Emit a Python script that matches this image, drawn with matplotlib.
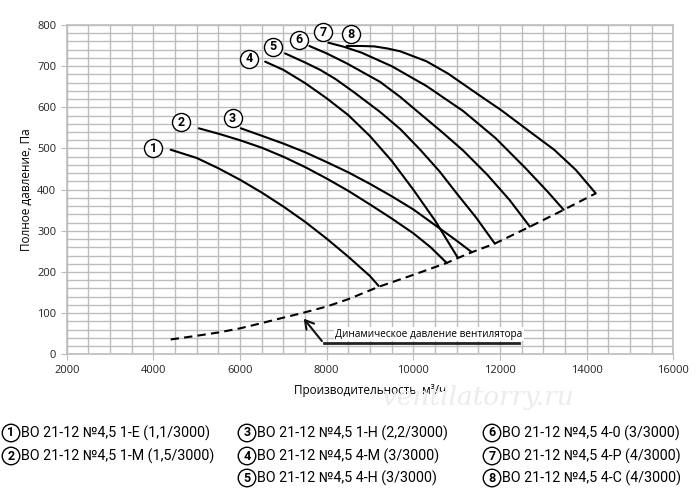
import matplotlib
matplotlib.use('Agg')
import matplotlib.pyplot as plt
from matplotlib.ticker import MultipleLocator

# fan curves (flow m3/h, total pressure Pa)
c1_x = [4400, 5000, 5500, 6000, 6500, 7000, 7500, 8000, 8500, 9000, 9200]
c1_y = [497, 477, 452, 424, 393, 359, 322, 281, 237, 190, 166]
c2_x = [5050, 5500, 6000, 6500, 7000, 7500, 8000, 8500, 9000, 9500, 10000, 10400, 10770]
c2_y = [549, 536, 520, 502, 480, 455, 427, 397, 364, 330, 294, 260, 222]
c3_x = [6020, 6500, 7000, 7500, 8000, 8500, 9000, 9500, 10000, 10500, 11000, 11350]
c3_y = [549, 531, 512, 491, 467, 442, 414, 384, 352, 314, 276, 248]
c4_x = [6580, 7000, 7500, 8000, 8500, 9000, 9500, 10000, 10500, 11030]
c4_y = [711, 691, 659, 622, 581, 530, 470, 400, 325, 234]
c5_x = [7040, 7500, 7850, 8200, 8600, 9230, 9700, 10150, 10600, 11000, 11450, 11880]
c5_y = [731, 709, 691, 669, 639, 589, 547, 498, 445, 391, 332, 269]
c6_x = [7600, 8000, 8460, 9230, 9700, 10150, 10650, 11150, 11700, 12220, 12690]
c6_y = [749, 731, 707, 662, 625, 585, 541, 495, 437, 375, 310]
c7_x = [8040, 8400, 8800, 9500, 10300, 11150, 11900, 12600, 13100, 13470]
c7_y = [757, 747, 733, 700, 652, 591, 525, 451, 395, 351]
c8_x = [8460, 8800, 9100, 9400, 9700, 10300, 10800, 11500, 12030, 12700, 13250, 13750, 14210]
c8_y = [749, 749, 748, 743, 736, 712, 682, 631, 593, 540, 497, 448, 391]

# dynamic pressure of the fan
dyn_x = [4400, 5000, 5500, 6000, 6470, 7000, 7390, 8000, 8500, 9200, 10000,
         10770, 11030, 11350, 11880, 12690, 13470, 14210]
dyn_y = [36, 45, 53, 63, 75, 89, 99, 116, 134, 164, 193, 222, 234, 248, 269, 310, 351, 391]

curves = [(c1_x, c1_y), (c2_x, c2_y), (c3_x, c3_y), (c4_x, c4_y),
          (c5_x, c5_y), (c6_x, c6_y), (c7_x, c7_y), (c8_x, c8_y)]
curve_nums = ['1', '2', '3', '4', '5', '6', '7', '8']
label_pos = [(4000, 500), (4640, 564), (5830, 574), (6210, 718),
             (6770, 747), (7350, 764), (7910, 782), (8570, 778)]

legend_names = ['ВО 21-12 №4,5 1-Е (1,1/3000)',
                'ВО 21-12 №4,5 1-М (1,5/3000)',
                'ВО 21-12 №4,5 1-Н (2,2/3000)',
                'ВО 21-12 №4,5 4-М (3/3000)',
                'ВО 21-12 №4,5 4-Н (3/3000)',
                'ВО 21-12 №4,5 4-0 (3/3000)',
                'ВО 21-12 №4,5 4-Р (4/3000)',
                'ВО 21-12 №4,5 4-С (4/3000)']
# legend cell (column x, row y) in figure pixels
legend_cells = [(11, 433), (11, 456), (247, 433), (247, 456),
                (247, 478), (492, 433), (492, 456), (492, 478)]

plt.rcParams['font.family'] = ['Open Sans', 'DejaVu Sans']
narrow = ['Roboto', 'DejaVu Sans']
grid_c = '#bdbdbd'

W, H = 700, 496
fig = plt.figure(figsize=(7, 4.96), dpi=100)
ax = fig.add_axes([66.7 / W, 1 - 354.3 / H, (673.3 - 66.7) / W, (354.3 - 25) / H])

ax.set_xlim(2000, 16000)
ax.set_ylim(0, 800)
ax.xaxis.set_major_locator(MultipleLocator(2000))
ax.xaxis.set_minor_locator(MultipleLocator(500))
ax.yaxis.set_major_locator(MultipleLocator(100))
ax.yaxis.set_minor_locator(MultipleLocator(20))
ax.grid(which='both', color=grid_c, lw=1.0)
ax.set_axisbelow(True)
for s in ax.spines.values():
    s.set_color(grid_c)
    s.set_linewidth(1.2)
ax.tick_params(which='major', length=4, color=grid_c, labelsize=8, labelcolor='#222222')
ax.tick_params(which='minor', length=0)

for (xs, ys) in curves:
    ax.plot(xs, ys, color='black', lw=1.5, solid_capstyle='round', zorder=3)
ax.plot(dyn_x, dyn_y, color='black', lw=1.5, ls=(0, (4, 2.5)), zorder=3)

for num, (lx, ly) in zip(curve_nums, label_pos):
    ax.plot(lx, ly, 'o', ms=13, mfc='white', mec='black', mew=1.0, zorder=4, clip_on=False)
    ax.text(lx, ly, num, ha='center', va='center', fontsize=9, fontweight='bold',
            family=narrow, zorder=5)

# callout for the dynamic pressure line
ax.plot([7930, 12450], [27, 27], color='#222222', lw=2, zorder=3)
ax.annotate('', xy=(7430, 92), xytext=(7930, 27),
            arrowprops=dict(arrowstyle='->,head_length=0.6,head_width=0.35',
                            color='#111111', lw=1.5), zorder=3)
ax.text(8200, 49, 'Динамическое давление вентилятора', fontsize=7.2, va='center',
        ha='left', zorder=4,
        bbox=dict(facecolor='white', edgecolor='none', pad=1))

ax.set_xlabel('Производительность, м³/ч', fontsize=8.5, labelpad=6)
ax.set_ylabel('Полное давление, Па', fontsize=8.5, labelpad=3)

# watermark
fig.text(478 / W, 1 - 397 / H, 'ventilatorry.ru', fontsize=19, style='italic',
         color='#ececec', ha='center', va='center', family='DejaVu Serif', zorder=0)

# legend block under the chart
for num, name, (cx, cy) in zip(curve_nums, legend_names, legend_cells):
    fig.text(cx / W, 1 - cy / H, num, ha='center', va='center', fontsize=9,
             fontweight='bold', family=narrow,
             bbox=dict(boxstyle='circle,pad=0.18', facecolor='white', edgecolor='black', lw=1))
    fig.text((cx + 10) / W, 1 - cy / H, name, ha='left', va='center', fontsize=10.3,
             family=narrow)

fig.savefig('out.png', dpi=100)
